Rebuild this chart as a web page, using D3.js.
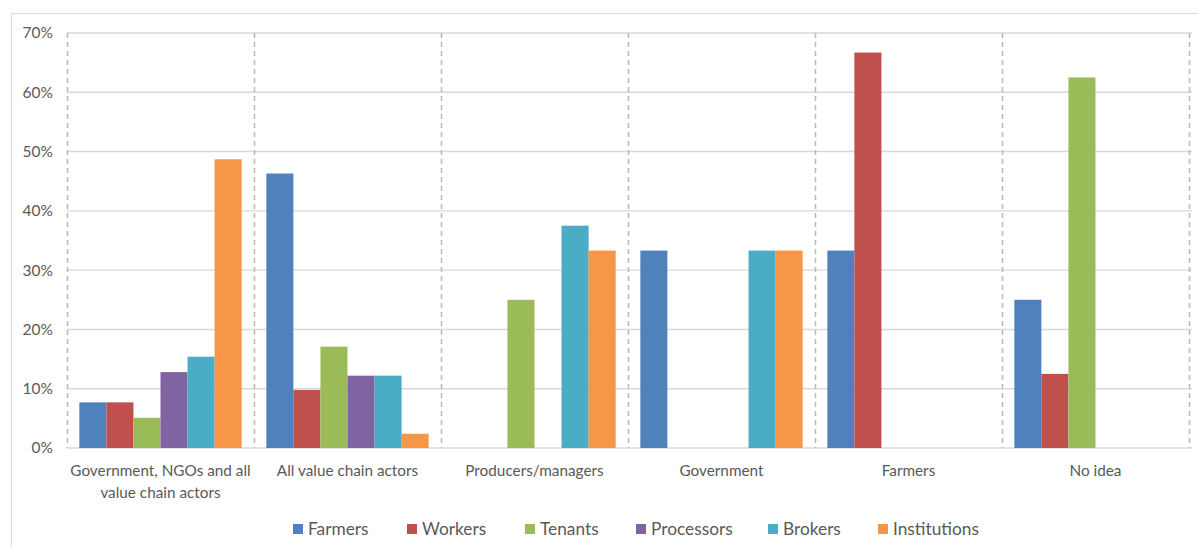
<!DOCTYPE html>
<html>
<head>
<meta charset="utf-8">
<script src="https://cdn.jsdelivr.net/npm/d3@7"></script>
<style>
  html, body { margin: 0; padding: 0; background: #fff; }
  svg { display: block; }
  text { font-family: Lato, "Open Sans", sans-serif; fill: #595959; }
</style>
</head>
<body>
<svg id="chart" width="1198" height="547"></svg>
<script>
const categories = [
  ["Government, NGOs and all", "value chain actors"],
  ["All value chain actors"],
  ["Producers/managers"],
  ["Government"],
  ["Farmers"],
  ["No idea"]
];
const seriesNames = ["Farmers", "Workers", "Tenants", "Processors", "Brokers", "Institutions"];
const colors = ["#4f81bd", "#c0504d", "#9bbb59", "#8064a2", "#4bacc6", "#f79646"];
const farmers      = [7.7, 46.3, 0,    33.3, 33.3, 25.0];
const workers      = [7.7, 9.8,  0,    0,    66.7, 12.5];
const tenants      = [5.1, 17.1, 25.0, 0,    0,    62.5];
const processors   = [12.8, 12.2, 0,   0,    0,    0];
const brokers      = [15.4, 12.2, 37.5, 33.3, 0,   0];
const institutions = [48.7, 2.4, 33.3, 33.3, 0,    0];
const yTicks = [0, 10, 20, 30, 40, 50, 60, 70];

const seriesValues = [farmers, workers, tenants, processors, brokers, institutions];
const svg = d3.select("#chart");

// chart border
svg.append("rect").attr("x", 11.5).attr("y", 13.5).attr("width", 1200).attr("height", 600)
  .attr("fill", "none").attr("stroke", "#d9d9d9").attr("stroke-width", 1);

const pLeft = 67, pRight = 1189, pTop = 33, pBottom = 448;
const catIdx = categories.map((d, i) => i);
const x0 = d3.scaleBand().domain(catIdx).range([pLeft, pRight]).paddingInner(0).paddingOuter(0);
const bw = x0.bandwidth();
const padG = bw * 0.066;
const x1 = d3.scaleBand().domain(seriesNames).range([padG, bw - padG]).padding(0);
const y = d3.scaleLinear().domain([0, 70]).range([pBottom, pTop]);

// horizontal gridlines
svg.append("g").selectAll("line").data(yTicks).join("line")
  .attr("x1", pLeft).attr("x2", pRight + 3)
  .attr("y1", d => y(d)).attr("y2", d => y(d))
  .attr("stroke", "#d9d9d9").attr("stroke-width", 1.4);

// vertical dashed dividers
const divs = catIdx.map(i => x0(i)).concat([x0(catIdx.length - 1) + bw]);
svg.append("g").selectAll("line").data(divs).join("line")
  .attr("x1", d => Math.round(d) + 0.5).attr("x2", d => Math.round(d) + 0.5)
  .attr("y1", pTop).attr("y2", pBottom)
  .attr("stroke", "#b8b8b8").attr("stroke-width", 1.5).attr("stroke-dasharray", "5,4");

// y axis labels
const yAxis = d3.axisLeft(y).tickValues(yTicks).tickFormat(d => d + "%").tickSize(0).tickPadding(0);
const ya = svg.append("g").attr("transform", `translate(${53},0)`).call(yAxis);
ya.select(".domain").remove();
ya.selectAll("text").style("font-size", "15.5px").attr("fill", "#595959")
  .style("font-family", "Lato, 'Open Sans', sans-serif");

// bars
const groups = svg.append("g").selectAll("g").data(catIdx).join("g")
  .attr("transform", i => `translate(${x0(i)},0)`);
groups.selectAll("rect").data(i => seriesNames.map((s, k) => ({s, k, v: seriesValues[k][i]})))
  .join("rect")
  .attr("x", d => x1(d.s)).attr("width", x1.bandwidth())
  .attr("y", d => y(d.v)).attr("height", d => pBottom - y(d.v))
  .attr("fill", d => colors[d.k]);

// x labels
const xl = svg.append("g");
catIdx.forEach(i => {
  const t = xl.append("text").attr("text-anchor", "middle")
    .attr("x", x0(i) + bw / 2).attr("y", 476).style("font-size", "15.3px");
  categories[i].forEach((line, j) => {
    t.append("tspan").attr("x", x0(i) + bw / 2).attr("dy", j === 0 ? 0 : 22).text(line);
  });
});

// legend
const legendX = [293, 407, 525, 636, 768, 878];
const lg = svg.append("g");
seriesNames.forEach((s, k) => {
  lg.append("rect").attr("x", legendX[k]).attr("y", 524).attr("width", 10).attr("height", 10).attr("fill", colors[k]);
  lg.append("text").attr("x", legendX[k] + 15).attr("y", 535).style("font-size", "17.3px").text(s);
});
</script>
</body>
</html>
